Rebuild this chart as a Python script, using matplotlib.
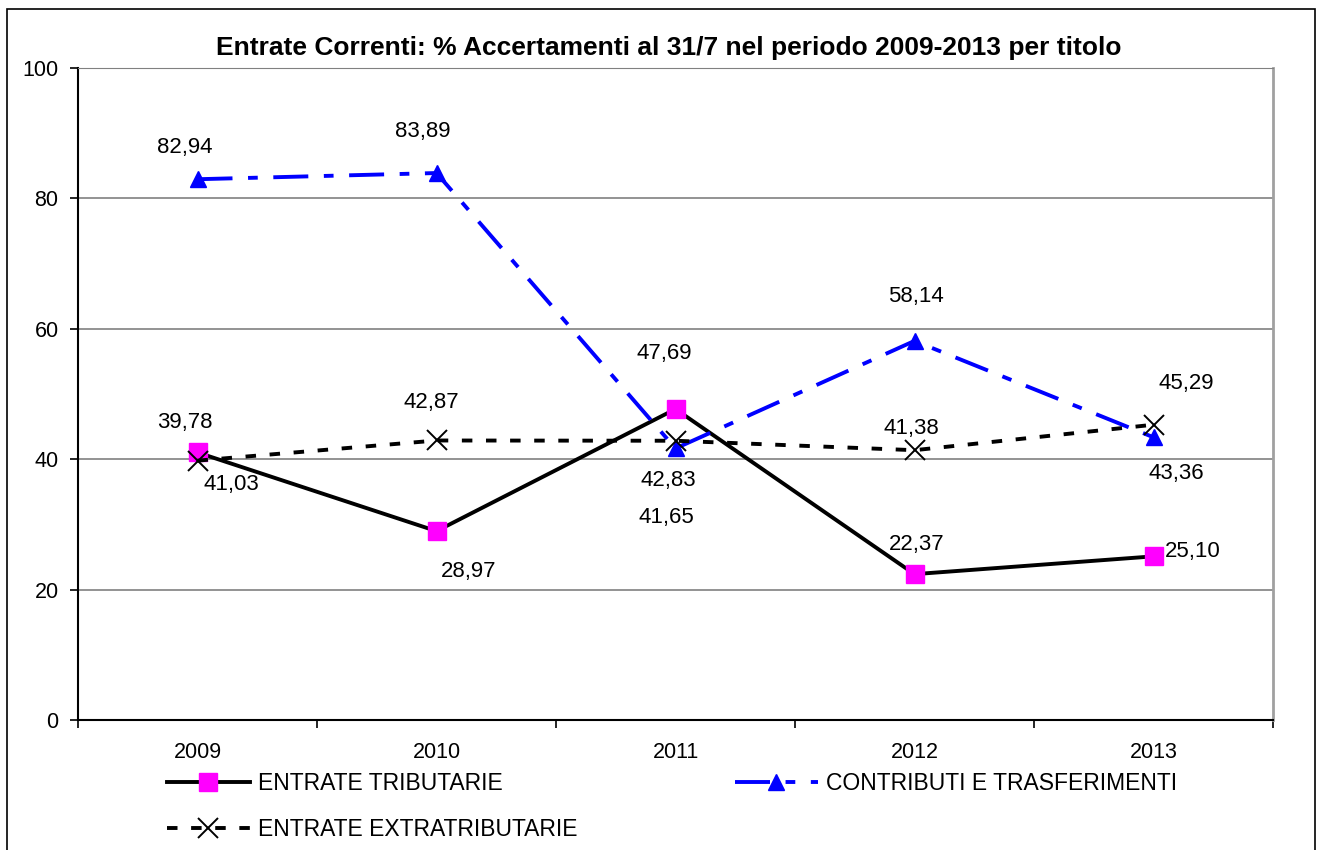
import matplotlib
matplotlib.use("Agg")
import matplotlib.pyplot as plt
from matplotlib.patches import Rectangle

plt.rcParams['font.family'] = ['Liberation Sans', 'DejaVu Sans']

years = ['2009', '2010', '2011', '2012', '2013']
tributarie = [41.03, 28.97, 47.69, 22.37, 25.10]
contributi = [82.94, 83.89, 41.65, 58.14, 43.36]
extratrib = [39.78, 42.87, 42.83, 41.38, 45.29]

# label offsets in pixels (dx, dy) for each value
off_trib = [(34, -32), (32, -40), (-11, 56), (2, 30), (39, 5)]
off_contr = [(-13, 32), (-14, 42), (-9, -69), (1, 44), (23, -36)]
off_extra = [(-13, 38), (-5, 38), (-7, -40), (-3, 22), (33, 41)]

fig = plt.figure(figsize=(13.19, 8.5), dpi=100)
ax = fig.add_axes([78 / 1319, 1 - 720 / 850, (1273 - 78) / 1319, (720 - 68) / 850])

x = range(len(years))
l1, = ax.plot(x, tributarie, color='black', lw=2.8, marker='s', markersize=13,
              markerfacecolor='#ff00ff', markeredgecolor='#ff00ff', zorder=3)
l2, = ax.plot(x, contributi, color='#0000ff', lw=2.8, linestyle=(0, (9, 4, 2.5, 4)),
              marker='^', markersize=11, markerfacecolor='#0000ff',
              markeredgecolor='#0000ff', zorder=4)
l3, = ax.plot(x, extratrib, color='black', lw=2.8, linestyle=(0, (2.7, 3.5)),
              marker='x', markersize=14, markeredgewidth=1.4, zorder=5)

def fmt(v):
    return ('%.2f' % v).replace('.', ',')

for vals, offs in [(tributarie, off_trib), (contributi, off_contr), (extratrib, off_extra)]:
    for i, v in enumerate(vals):
        ax.annotate(fmt(v), xy=(i, v), xytext=offs[i], textcoords='offset pixels',
                    ha='center', va='center', fontsize=16)

ax.set_xlim(-0.5, 4.5)
ax.set_ylim(0, 100)
ax.set_yticks([0, 20, 40, 60, 80, 100])
ax.set_xticks(list(x))
ax.set_xticklabels(years)
ax.set_xticks([i - 0.5 for i in range(6)], minor=True)
ax.tick_params(axis='x', which='major', length=0, labelsize=15.5, pad=16)
ax.tick_params(axis='x', which='minor', length=6, width=1.2, direction='out')
ax.tick_params(axis='y', length=6, width=1.2, direction='out', labelsize=15.5, pad=8)
ax.grid(axis='y', color='#808080', lw=1.2)
ax.set_axisbelow(True)
ax.spines['left'].set_linewidth(1.5)
ax.spines['bottom'].set_linewidth(1.5)
ax.spines['top'].set_color('#808080')
ax.spines['right'].set_color('#a0a0a0')
ax.spines['right'].set_linewidth(2)

ax.set_title('Entrate Correnti: % Accertamenti al 31/7 nel periodo 2009-2013 per titolo',
             fontsize=19, fontweight='bold', pad=9, x=0.4946)

fig.legend([l1, l3, l2], ['ENTRATE TRIBUTARIE', 'ENTRATE EXTRATRIBUTARIE',
                          'CONTRIBUTI E TRASFERIMENTI'],
           ncol=2, loc='upper left', bbox_to_anchor=(151 / 1319, 1 - 756 / 850),
           frameon=False, fontsize=16.5, handlelength=3.6, handletextpad=0.35,
           columnspacing=6.9, labelspacing=1.0, borderpad=0.2)

fig.patches.append(Rectangle((7 / 1319, -0.01), 1308 / 1319, 1 - 9 / 850 + 0.01,
                             transform=fig.transFigure, fill=False,
                             edgecolor='black', lw=1.2))

fig.savefig('out.png', dpi=100)
